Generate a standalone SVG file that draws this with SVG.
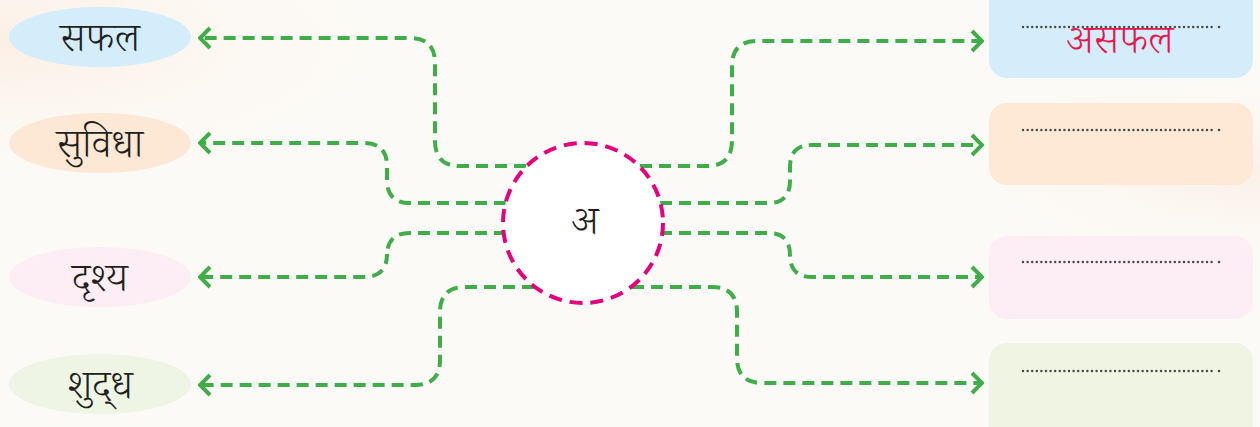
<svg xmlns="http://www.w3.org/2000/svg" width="1260" height="427" viewBox="0 0 1260 427">
<defs>
<radialGradient id="bgTL" cx="0" cy="0.1" r="0.35">
<stop offset="0" stop-color="#fcefe4"/>
<stop offset="1" stop-color="#fcfaf6" stop-opacity="0"/>
</radialGradient>
<radialGradient id="bgR" cx="1" cy="0.4" r="0.25">
<stop offset="0" stop-color="#fbf0e6"/>
<stop offset="1" stop-color="#fcfaf6" stop-opacity="0"/>
</radialGradient>
<marker id="arr" viewBox="0 0 14 24" refX="12" refY="12" markerWidth="14" markerHeight="24" markerUnits="userSpaceOnUse" orient="auto">
<path d="M2,2 L12,12 L2,22" fill="none" stroke="#3fae49" stroke-width="4" stroke-linecap="butt"/>
</marker>
</defs>
<style>
.conn{fill:none;stroke:#3fae49;stroke-width:4;stroke-dasharray:12 7;marker-end:url(#arr)}
.lbl{font-family:"Noto Serif Devanagari","Noto Sans","Noto Sans Devanagari","Lohit Devanagari",sans-serif;font-size:40px;font-weight:350;fill:#231f20;text-anchor:middle}
.dots{stroke:#4a4a4a;stroke-width:2.5;stroke-linecap:round;stroke-dasharray:0 4.6}
.box{stroke:none}
</style>
<rect width="1260" height="427" fill="#fcfaf6"/>
<rect width="1260" height="427" fill="url(#bgTL)"/>
<rect width="1260" height="427" fill="url(#bgR)"/>

<g id="connectors">
<path class="conn" d="M526,166 H460 Q435,166 435,141 V63 Q435,38 410,38 H200"/>
<path class="conn" d="M506,203 H410 Q387,203 387,180 V166 Q387,143 364,143 H200"/>
<path class="conn" d="M506,233 H410 Q387,233 387,256 V254 Q387,277 364,277 H200"/>
<path class="conn" d="M534,287 H465 Q440,287 440,312 V360 Q440,385 415,385 H200"/>
<path class="conn" d="M640,166 H707 Q732,166 732,141 V66 Q732,41 757,41 H982"/>
<path class="conn" d="M660,203 H768 Q790,203 790,181 V167 Q790,145 812,145 H982"/>
<path class="conn" d="M660,233 H768 Q790,233 790,255 V255 Q790,277 812,277 H982"/>
<path class="conn" d="M632,287 H712 Q737,287 737,312 V358 Q737,383 762,383 H982"/>
</g>

<g id="center">
<circle cx="583" cy="223" r="80" fill="#ffffff" stroke="#e6007e" stroke-width="4" stroke-dasharray="13 8"/>
<text class="lbl" x="585" y="234">अ</text>
</g>

<g id="left1"><ellipse cx="100" cy="37" rx="91" ry="30" fill="#d3edfb"/><text class="lbl" x="100" y="51">सफल</text></g>
<g id="left2"><ellipse cx="100" cy="143" rx="91" ry="30" fill="#fde7d5"/><text class="lbl" x="100" y="157">सुविधा</text></g>
<g id="left3"><ellipse cx="100" cy="277" rx="91" ry="30" fill="#fdedf5"/><text class="lbl" x="100" y="291">दृश्य</text></g>
<g id="left4"><ellipse cx="100" cy="384" rx="91" ry="30" fill="#eff5e4"/><text class="lbl" x="100" y="398">शुद्‌ध</text></g>

<g id="right1"><rect class="box" x="989" y="-20" width="264" height="98" rx="18" fill="#d5edfb"/><line class="dots" x1="1023" y1="27" x2="1213" y2="27"/><circle cx="1219" cy="27" r="1.3" fill="#4a4a4a"/><text class="lbl" x="1120" y="53" style="fill:#e8174a">असफल</text></g>
<g id="right2"><rect class="box" x="989" y="103" width="264" height="82" rx="18" fill="#fde9d6"/><line class="dots" x1="1023" y1="130" x2="1213" y2="130"/><circle cx="1219" cy="130" r="1.3" fill="#4a4a4a"/></g>
<g id="right3"><rect class="box" x="989" y="236" width="264" height="83" rx="18" fill="#fdeef5"/><line class="dots" x1="1023" y1="262" x2="1213" y2="262"/><circle cx="1219" cy="262" r="1.3" fill="#4a4a4a"/></g>
<g id="right4"><rect class="box" x="989" y="343" width="264" height="100" rx="18" fill="#eff4e3"/><line class="dots" x1="1023" y1="371" x2="1213" y2="371"/><circle cx="1219" cy="371" r="1.3" fill="#4a4a4a"/></g>
</svg>
